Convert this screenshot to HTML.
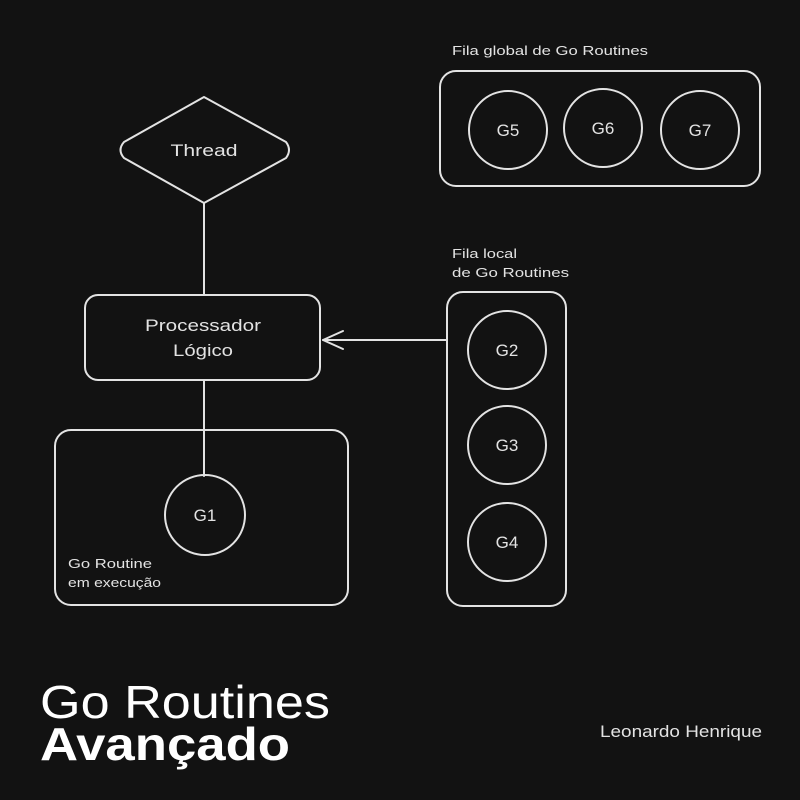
<!DOCTYPE html>
<html><head><meta charset="utf-8"><style>
html,body{margin:0;padding:0;background:#121212;}
svg{display:block}
</style></head><body>
<svg width="800" height="800" viewBox="0 0 800 800" xmlns="http://www.w3.org/2000/svg">
<rect width="800" height="800" fill="#121212"/>
<g fill="none" stroke="#e3e3e3" stroke-width="2" stroke-linejoin="round" stroke-linecap="round">
  <path d="M204 97 L286 142 Q292 150 286 158 L204 203 L124 158 Q117 150 124 142 Z"/>
  <line x1="204" y1="203" x2="204" y2="295"/>
  <rect x="85" y="295" width="235" height="85" rx="13"/>
  <line x1="204" y1="380" x2="204" y2="476"/>
  <rect x="55" y="430" width="293" height="175" rx="16"/>
  <circle cx="205" cy="515" r="40"/>
  <rect x="440" y="71" width="320" height="115" rx="16"/>
  <circle cx="508" cy="130" r="39"/>
  <circle cx="603" cy="128" r="39"/>
  <circle cx="700" cy="130" r="39"/>
  <rect x="447" y="292" width="119" height="314" rx="16"/>
  <circle cx="507" cy="350" r="39"/>
  <circle cx="507" cy="445" r="39"/>
  <circle cx="507" cy="542" r="39"/>
  <line x1="447" y1="340" x2="323" y2="340"/>
  <polyline points="343,331 323,340 343,349"/>
</g>
<g fill="#e3e3e3" font-family="Liberation Sans, sans-serif">
  <g font-size="17" text-anchor="middle">
    <text x="204" y="156" textLength="67" lengthAdjust="spacingAndGlyphs">Thread</text>
    <text x="203" y="331" textLength="116" lengthAdjust="spacingAndGlyphs">Processador</text>
    <text x="203" y="356" textLength="60" lengthAdjust="spacingAndGlyphs">Lógico</text>
    <text x="205" y="521">G1</text>
    <text x="508" y="136">G5</text>
    <text x="603" y="134">G6</text>
    <text x="700" y="136">G7</text>
    <text x="507" y="356">G2</text>
    <text x="507" y="451">G3</text>
    <text x="507" y="548">G4</text>
  </g>
  <g font-size="13" lengthAdjust="spacingAndGlyphs">
    <text x="452" y="55" textLength="196" lengthAdjust="spacingAndGlyphs">Fila global de Go Routines</text>
    <text x="452" y="258" textLength="65" lengthAdjust="spacingAndGlyphs">Fila local</text>
    <text x="452" y="277" textLength="117" lengthAdjust="spacingAndGlyphs">de Go Routines</text>
    <text x="68" y="568" textLength="84" lengthAdjust="spacingAndGlyphs">Go Routine</text>
    <text x="68" y="587" textLength="93" lengthAdjust="spacingAndGlyphs">em execução</text>
  </g>
  <text x="40" y="718" font-size="46" fill="#fff" textLength="290" lengthAdjust="spacingAndGlyphs">Go Routines</text>
  <text x="40" y="760" font-size="46" font-weight="bold" fill="#fff" textLength="250" lengthAdjust="spacingAndGlyphs">Avançado</text>
  <text x="600" y="737" font-size="17" textLength="162" lengthAdjust="spacingAndGlyphs">Leonardo Henrique</text>
</g>
</svg>
</body></html>
